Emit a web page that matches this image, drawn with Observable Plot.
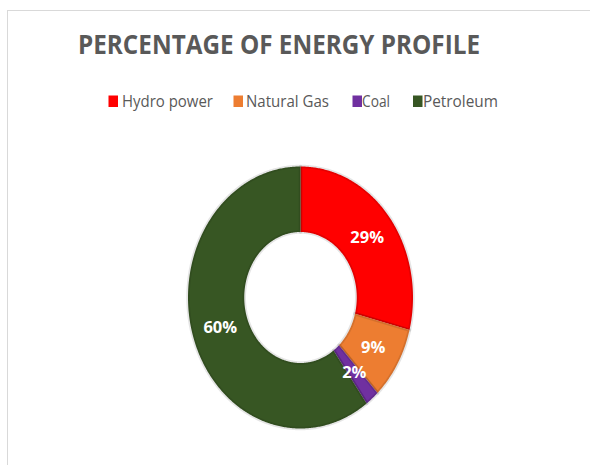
<!DOCTYPE html>
<html>
<head>
<meta charset="utf-8">
<script src="https://cdn.jsdelivr.net/npm/d3@7"></script>
<script src="https://cdn.jsdelivr.net/npm/@observablehq/plot@0.6"></script>
<style>
  html, body { margin: 0; padding: 0; background: #fff; }
  #wrap { position: relative; width: 590px; height: 465px; overflow: hidden; background: #fff; }
  #frame { position: absolute; left: 7px; top: 10px; width: 620px; height: 500px; border: 1.5px solid #d9d9d9; z-index: 2; pointer-events: none; }
  #header, #chart svg { display: block; }
</style>
</head>
<body>
<div id="wrap">
  <div id="frame"></div>
  <svg id="header" width="590" height="130"></svg>
  <div id="chart"></div>
</div>
<script>
// ---- data ----
const title = "PERCENTAGE OF ENERGY PROFILE";
const categories = ["Hydro power", "Natural Gas", "Coal", "Petroleum"];
const values = [29, 9, 2, 60];
const colors = ["#FF0000", "#ED7D31", "#7030A0", "#375623"];

// ---- header (title + legend) ----
const header = d3.select("#header");
header.append("text")
  .attr("x", 279).attr("y", 53.5)
  .attr("text-anchor", "middle")
  .attr("font-family", "'Open Sans', sans-serif")
  .attr("font-weight", "bold")
  .attr("font-size", 27)
  .attr("fill", "#595959")
  .attr("textLength", 402)
  .attr("lengthAdjust", "spacingAndGlyphs")
  .text(title);

const legendX = [108.5, 233.5, 352.5, 413];
const legendTextX = [122, 246, 362, 423];
const legendW = [91, 83, 28, 75];
categories.forEach((c, i) => {
  header.append("rect")
    .attr("x", legendX[i]).attr("y", 95.5)
    .attr("width", 9.5).attr("height", 11.5)
    .attr("fill", colors[i]);
  header.append("text")
    .attr("x", legendTextX[i]).attr("y", 107)
    .attr("font-family", "'Open Sans', sans-serif")
    .attr("font-size", 16.5)
    .attr("fill", "#595959")
    .attr("textLength", legendW[i])
    .attr("lengthAdjust", "spacingAndGlyphs")
    .text(c);
});

// ---- donut geometry from values ----
const total = d3.sum(values);
const inner = 0.5, outer = 1;
const slices = [];
const labels = [];
let acc = 0;
values.forEach((v, i) => {
  const a0 = acc / total * 2 * Math.PI;
  acc += v;
  const a1 = acc / total * 2 * Math.PI;
  const n = Math.max(2, Math.ceil((a1 - a0) / 0.01));
  const pts = [];
  for (let k = 0; k <= n; k++) {
    const a = a0 + (a1 - a0) * k / n;
    pts.push({cat: categories[i], x: outer * Math.sin(a), y: outer * Math.cos(a)});
  }
  for (let k = n; k >= 0; k--) {
    const a = a0 + (a1 - a0) * k / n;
    pts.push({cat: categories[i], x: inner * Math.sin(a), y: inner * Math.cos(a)});
  }
  pts.push(pts[0]);
  slices.push(...pts);
  const am = (a0 + a1) / 2, rm = (inner + outer) / 2;
  labels.push({cat: categories[i], text: v + "%", x: rm * Math.sin(am), y: rm * Math.cos(am)});
});

// ---- plot ----
const W = 590, H = 335;
const cx = 300, cy = 167, rx = 112.5, ry = 131;
const chart = Plot.plot({
  width: W, height: H, margin: 0,
  style: {background: "transparent"},
  x: {domain: [-cx / rx, (W - cx) / rx], axis: null},
  y: {domain: [-(H - cy) / ry, cy / ry], axis: null},
  color: {domain: categories, range: colors},
  marks: [
    Plot.line(slices, {x: "x", y: "y", z: "cat", fill: "cat", stroke: "black", strokeOpacity: 0.1, strokeWidth: 3.5, curve: "linear"}),
    Plot.text(labels, {x: "x", y: "y", text: "text", fill: "white", fontWeight: "bold", fontSize: 16.5, fontFamily: "'Open Sans', sans-serif"})
  ]
});
document.getElementById("chart").appendChild(chart);
</script>
</body>
</html>
